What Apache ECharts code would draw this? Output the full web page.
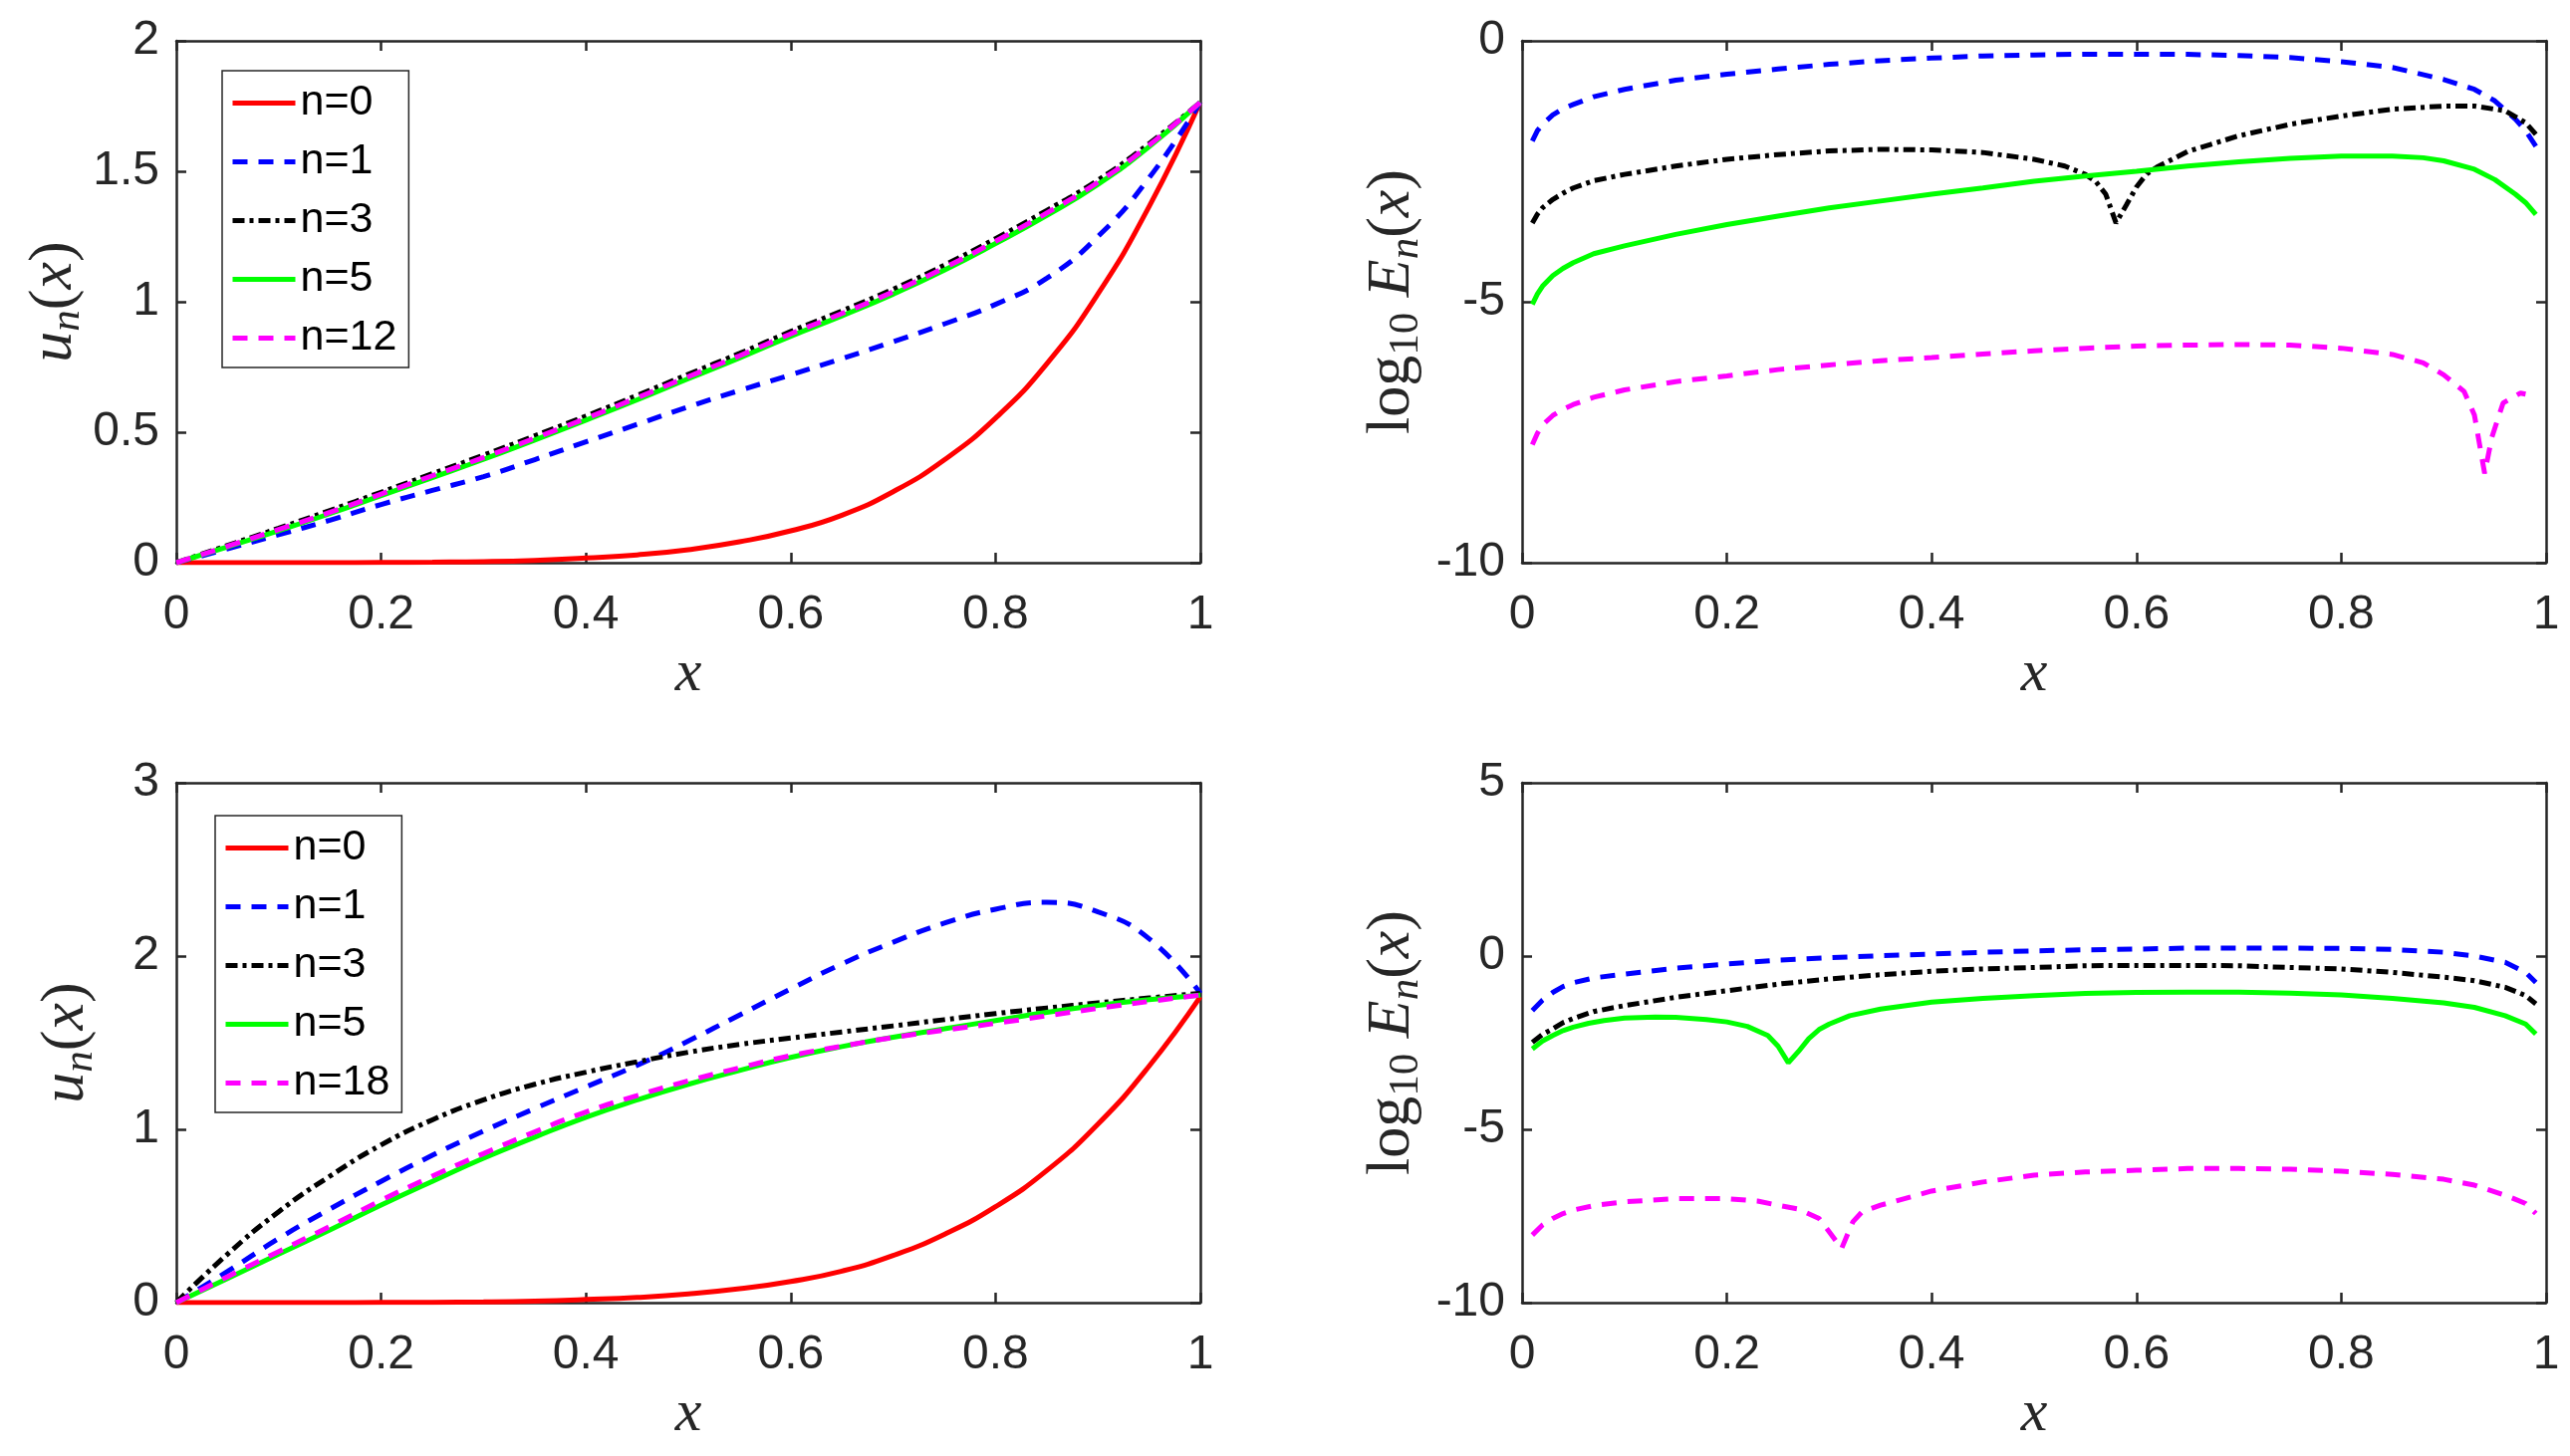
<!DOCTYPE html>
<html><head><meta charset="utf-8">
<script src="https://cdn.jsdelivr.net/npm/echarts@6/dist/echarts.min.js"></script>
<style>html,body{margin:0;padding:0;background:#fff}#c{width:2580px;height:1462px}</style>
</head><body><div id="c"></div>
<script>
// ---------- data ----------
const xTicks = [0, 0.2, 0.4, 0.6, 0.8, 1];
const xLeft = [0,0.05,0.1,0.15,0.2,0.25,0.3,0.35,0.4,0.45,0.5,0.55,0.6,0.65,0.7,0.75,0.8,0.85,0.9,0.95,1];

// top-left: u_n(x)
const TL_n0  = [0,0,0,0,0.001,0.002,0.004,0.009,0.018,0.03,0.05,0.08,0.122,0.182,0.272,0.394,0.554,0.762,1.03,1.365,1.765];
const TL_n1  = [0,0.053,0.107,0.163,0.223,0.277,0.33,0.395,0.463,0.53,0.597,0.66,0.72,0.782,0.847,0.915,0.99,1.09,1.25,1.475,1.765];
const TL_n3  = [0,0.066,0.132,0.2,0.27,0.341,0.412,0.486,0.562,0.641,0.722,0.802,0.886,0.965,1.048,1.14,1.242,1.35,1.466,1.606,1.765];
const TL_n5  = [0,0.061,0.123,0.188,0.257,0.326,0.396,0.47,0.546,0.624,0.705,0.785,0.868,0.946,1.029,1.121,1.223,1.331,1.45,1.594,1.765];
const TL_n12 = [0,0.063,0.127,0.193,0.263,0.333,0.403,0.477,0.553,0.632,0.713,0.793,0.877,0.955,1.038,1.13,1.232,1.34,1.458,1.6,1.765];

// bottom-left: u_n(x)
const BL_n0  = [0,0,0,0,0.001,0.002,0.004,0.009,0.018,0.03,0.05,0.08,0.122,0.182,0.272,0.394,0.554,0.762,1.03,1.365,1.765];
const BL_n1  = [0,0.18,0.37,0.54,0.70,0.85,0.99,1.12,1.245,1.37,1.51,1.66,1.81,1.955,2.08,2.19,2.27,2.31,2.255,2.1,1.785];
const BL_n3  = [0,0.28,0.525,0.73,0.91,1.055,1.17,1.26,1.33,1.39,1.445,1.49,1.527,1.562,1.597,1.633,1.668,1.70,1.73,1.758,1.785];
const BL_n5  = [0,0.14,0.28,0.42,0.563,0.70,0.833,0.955,1.07,1.17,1.26,1.34,1.415,1.478,1.532,1.58,1.628,1.675,1.715,1.748,1.775];
const BL_n18 = [0,0.15,0.295,0.44,0.59,0.73,0.86,0.985,1.1,1.195,1.28,1.355,1.425,1.48,1.53,1.572,1.612,1.655,1.698,1.738,1.775];

// top-right: log10 E_n(x)
const TR_x1  = [0.01,0.015,0.02,0.03,0.04,0.05,0.07,0.1,0.15,0.2,0.25,0.3,0.35,0.4,0.45,0.5,0.55,0.6,0.65,0.7,0.75,0.8,0.85,0.9,0.93,0.95,0.97,0.98,0.99];
const TR_n1  = [-1.92,-1.72,-1.6,-1.42,-1.3,-1.22,-1.07,-0.93,-0.755,-0.64,-0.54,-0.45,-0.38,-0.33,-0.29,-0.27,-0.256,-0.256,-0.26,-0.28,-0.32,-0.4,-0.51,-0.74,-0.93,-1.15,-1.5,-1.72,-2.02];
const TR_x3  = [0.01,0.015,0.02,0.03,0.04,0.05,0.07,0.1,0.15,0.2,0.25,0.3,0.35,0.4,0.45,0.5,0.53,0.55,0.56,0.57,0.58,0.59,0.6,0.61,0.62,0.65,0.7,0.75,0.8,0.85,0.9,0.93,0.96,0.98,0.99];
const TR_n3  = [-3.49,-3.32,-3.2,-3.04,-2.92,-2.82,-2.68,-2.56,-2.40,-2.27,-2.18,-2.11,-2.08,-2.09,-2.14,-2.27,-2.40,-2.56,-2.69,-2.94,-3.49,-3.15,-2.8,-2.55,-2.42,-2.12,-1.82,-1.60,-1.44,-1.31,-1.25,-1.25,-1.34,-1.57,-1.79];
const TR_x5  = [0.01,0.015,0.02,0.03,0.04,0.05,0.07,0.1,0.15,0.2,0.25,0.3,0.35,0.4,0.45,0.5,0.55,0.6,0.65,0.7,0.75,0.8,0.85,0.88,0.9,0.93,0.95,0.97,0.98,0.99];
const TR_n5  = [-5.05,-4.85,-4.70,-4.5,-4.36,-4.25,-4.08,-3.93,-3.71,-3.52,-3.36,-3.20,-3.07,-2.94,-2.82,-2.69,-2.59,-2.50,-2.40,-2.32,-2.25,-2.21,-2.21,-2.24,-2.30,-2.46,-2.66,-2.94,-3.1,-3.33];
const TR_x12 = [0.01,0.015,0.02,0.03,0.04,0.05,0.07,0.1,0.15,0.2,0.25,0.3,0.35,0.4,0.45,0.5,0.55,0.6,0.65,0.7,0.75,0.8,0.85,0.88,0.9,0.92,0.93,0.94,0.947,0.958,0.975,0.98];
const TR_n12 = [-7.74,-7.52,-7.36,-7.18,-7.06,-6.97,-6.83,-6.69,-6.53,-6.42,-6.30,-6.21,-6.13,-6.07,-6.0,-5.94,-5.89,-5.85,-5.83,-5.82,-5.83,-5.89,-6.01,-6.17,-6.40,-6.72,-7.17,-8.29,-7.6,-6.94,-6.75,-6.77];

// bottom-right: log10 E_n(x)
const BR_x1  = [0.01,0.02,0.03,0.04,0.05,0.07,0.1,0.15,0.2,0.25,0.3,0.35,0.4,0.45,0.5,0.55,0.6,0.65,0.7,0.75,0.8,0.85,0.9,0.93,0.96,0.98,0.99];
const BR_n1  = [-1.57,-1.27,-1.05,-0.88,-0.77,-0.63,-0.52,-0.35,-0.23,-0.115,-0.05,0.01,0.06,0.11,0.15,0.18,0.2,0.23,0.23,0.23,0.22,0.19,0.11,0.0,-0.18,-0.47,-0.76];
const BR_x3  = [0.01,0.02,0.03,0.04,0.05,0.07,0.1,0.15,0.2,0.25,0.3,0.35,0.4,0.45,0.5,0.55,0.6,0.65,0.7,0.75,0.8,0.85,0.9,0.93,0.96,0.98,0.99];
const BR_n3  = [-2.49,-2.26,-2.10,-1.92,-1.80,-1.6,-1.43,-1.19,-1.0,-0.81,-0.66,-0.54,-0.44,-0.37,-0.33,-0.28,-0.27,-0.27,-0.28,-0.33,-0.37,-0.47,-0.61,-0.71,-0.90,-1.14,-1.38];
const BR_x5  = [0.01,0.02,0.03,0.04,0.05,0.065,0.08,0.1,0.13,0.15,0.18,0.2,0.22,0.24,0.25,0.26,0.27,0.28,0.29,0.3,0.32,0.35,0.4,0.45,0.5,0.55,0.6,0.65,0.7,0.75,0.8,0.85,0.9,0.93,0.96,0.98,0.99];
const BR_n5  = [-2.68,-2.45,-2.29,-2.15,-2.05,-1.94,-1.86,-1.79,-1.76,-1.77,-1.83,-1.9,-2.03,-2.29,-2.6,-3.08,-2.75,-2.38,-2.12,-1.96,-1.72,-1.53,-1.33,-1.22,-1.14,-1.08,-1.05,-1.04,-1.04,-1.07,-1.12,-1.22,-1.35,-1.48,-1.72,-1.96,-2.25];
const BR_x18 = [0.01,0.02,0.03,0.04,0.05,0.07,0.1,0.15,0.2,0.23,0.25,0.27,0.29,0.3,0.312,0.323,0.332,0.35,0.4,0.45,0.5,0.55,0.6,0.65,0.7,0.75,0.8,0.85,0.9,0.93,0.96,0.98,0.99];
const BR_n18 = [-8.05,-7.76,-7.57,-7.43,-7.33,-7.2,-7.09,-7.0,-7.0,-7.07,-7.19,-7.30,-7.57,-7.96,-8.44,-7.67,-7.38,-7.19,-6.78,-6.52,-6.32,-6.23,-6.18,-6.13,-6.13,-6.15,-6.21,-6.30,-6.44,-6.61,-6.90,-7.14,-7.43];

const legendTop = ['n=0','n=1','n=3','n=5','n=12'];
const legendBottom = ['n=0','n=1','n=3','n=5','n=18'];

// ---------- styling ----------
const AX = '#262626';
const SANS = "'Liberation Sans', Arial, Helvetica, sans-serif";
const SERIF = "'Liberation Serif', 'Times New Roman', serif";
const LW = 5;
const STY = {
  'n=0':  {color:'#ff0000', type:'solid'},
  'n=1':  {color:'#0000ff', type:[15,11]},
  'n=3':  {color:'#000000', type:[12,5,4,5]},
  'n=5':  {color:'#00ff00', type:'solid'},
  'n=12': {color:'#ff00ff', type:[15,11]},
  'n=18': {color:'#ff00ff', type:[15,11]}
};
const grids = [
  {left:177, top:41,  width:1028, height:524},
  {left:1528,top:41,  width:1028, height:524},
  {left:177, top:786, width:1028, height:522},
  {left:1528,top:786, width:1028, height:522}
];
const yRanges = [[0,2,0.5],[-10,0,5],[0,3,1],[-10,5,5]];

const rich = {
  i:  {fontFamily:SERIF, fontStyle:'italic', fontSize:62, lineHeight:70, color:AX},
  r:  {fontFamily:SERIF, fontSize:62, lineHeight:70, color:AX},
  si: {fontFamily:SERIF, fontStyle:'italic', fontSize:43, lineHeight:42, verticalAlign:'bottom', color:AX},
  sr: {fontFamily:SERIF, fontSize:43, lineHeight:42, verticalAlign:'bottom', color:AX}
};
const uName = '{i|u}{si|n}{r|(}{i|x}{r|)}';
const eName = '{r|log}{sr|10}{r| }{i|E}{si|n}{r|(}{i|x}{r|)}';

const xAxis = [], yAxis = [];
grids.forEach((g, gi) => {
  const base = {
    gridIndex: gi, type:'value', min:0, max:1, interval:0.2,
    splitLine:{show:false},
    axisLine:{show:true, onZero:false, lineStyle:{color:AX, width:2.5}},
    axisTick:{show:true, inside:true, length:10, lineStyle:{color:AX, width:2.5}}
  };
  xAxis.push(Object.assign({}, base, {
    position:'bottom', name:'x', nameLocation:'middle', nameGap:82,
    nameTextStyle:{fontFamily:SERIF, fontStyle:'italic', fontSize:60, lineHeight:60, color:AX},
    axisLabel:{show:true, margin:29, fontSize:48, fontFamily:SANS, color:AX}
  }));
  xAxis.push(Object.assign({}, base, {position:'top', axisLabel:{show:false}}));
  const yr = yRanges[gi];
  const ybase = Object.assign({}, base, {min:yr[0], max:yr[1], interval:yr[2]});
  const isLeft = gi % 2 === 0;
  yAxis.push(Object.assign({}, ybase, {
    position:'left', name: isLeft ? uName : eName, nameLocation:'middle', nameRotate:90,
    nameGap: isLeft ? 75 : 95,
    nameTextStyle:{rich: rich},
    axisLabel:{show:true, margin:17, fontSize:48, fontFamily:SANS, color:AX}
  }));
  yAxis.push(Object.assign({}, ybase, {position:'right', axisLabel:{show:false}}));
});

function mk(name, gi, xs, ys, smooth) {
  const s = STY[name];
  return {
    type:'line', name:name, xAxisIndex: 2*gi, yAxisIndex: 2*gi,
    data: xs.map((x, k) => [x, ys[k]]),
    symbol:'none', showSymbol:false, smooth: smooth || false,
    lineStyle:{color:s.color, width:LW, type:s.type},
    itemStyle:{color:s.color},
    emphasis:{disabled:true}, animation:false
  };
}

const SM = 0.5;
const series = [
  mk('n=0', 0, xLeft, TL_n0, SM), mk('n=1', 0, xLeft, TL_n1, SM), mk('n=3', 0, xLeft, TL_n3, SM),
  mk('n=5', 0, xLeft, TL_n5, SM), mk('n=12', 0, xLeft, TL_n12, SM),
  mk('n=1', 1, TR_x1, TR_n1), mk('n=3', 1, TR_x3, TR_n3), mk('n=5', 1, TR_x5, TR_n5), mk('n=12', 1, TR_x12, TR_n12),
  mk('n=0', 2, xLeft, BL_n0, SM), mk('n=1', 2, xLeft, BL_n1, SM), mk('n=3', 2, xLeft, BL_n3, SM),
  mk('n=5', 2, xLeft, BL_n5, SM), mk('n=18', 2, xLeft, BL_n18, SM),
  mk('n=1', 3, BR_x1, BR_n1), mk('n=3', 3, BR_x3, BR_n3), mk('n=5', 3, BR_x5, BR_n5), mk('n=18', 3, BR_x18, BR_n18)
];

function legendData(names) {
  return names.map(n => ({name:n, lineStyle:{color:STY[n].color, width:LW, type:STY[n].type}}));
}
const legendCommon = {
  orient:'vertical', itemWidth:63, itemHeight:14, itemGap:16,
  padding:[11,12,8,8], borderColor:AX, borderWidth:1.5, backgroundColor:'#fff',
  selectedMode:false,
  itemStyle:{opacity:0},
  textStyle:{fontFamily:SANS, fontSize:43, lineHeight:42, color:'#000'}
};

const chart = echarts.init(document.getElementById('c'), null, {renderer:'canvas'});
chart.setOption({
  animation:false,
  backgroundColor:'#fff',
  grid: grids,
  xAxis: xAxis,
  yAxis: yAxis,
  legend: [
    Object.assign({}, legendCommon, {left:223, top:71, data:legendData(legendTop)}),
    Object.assign({}, legendCommon, {left:216, top:819, data:legendData(legendBottom)})
  ],
  series: series
});
</script></body></html>
